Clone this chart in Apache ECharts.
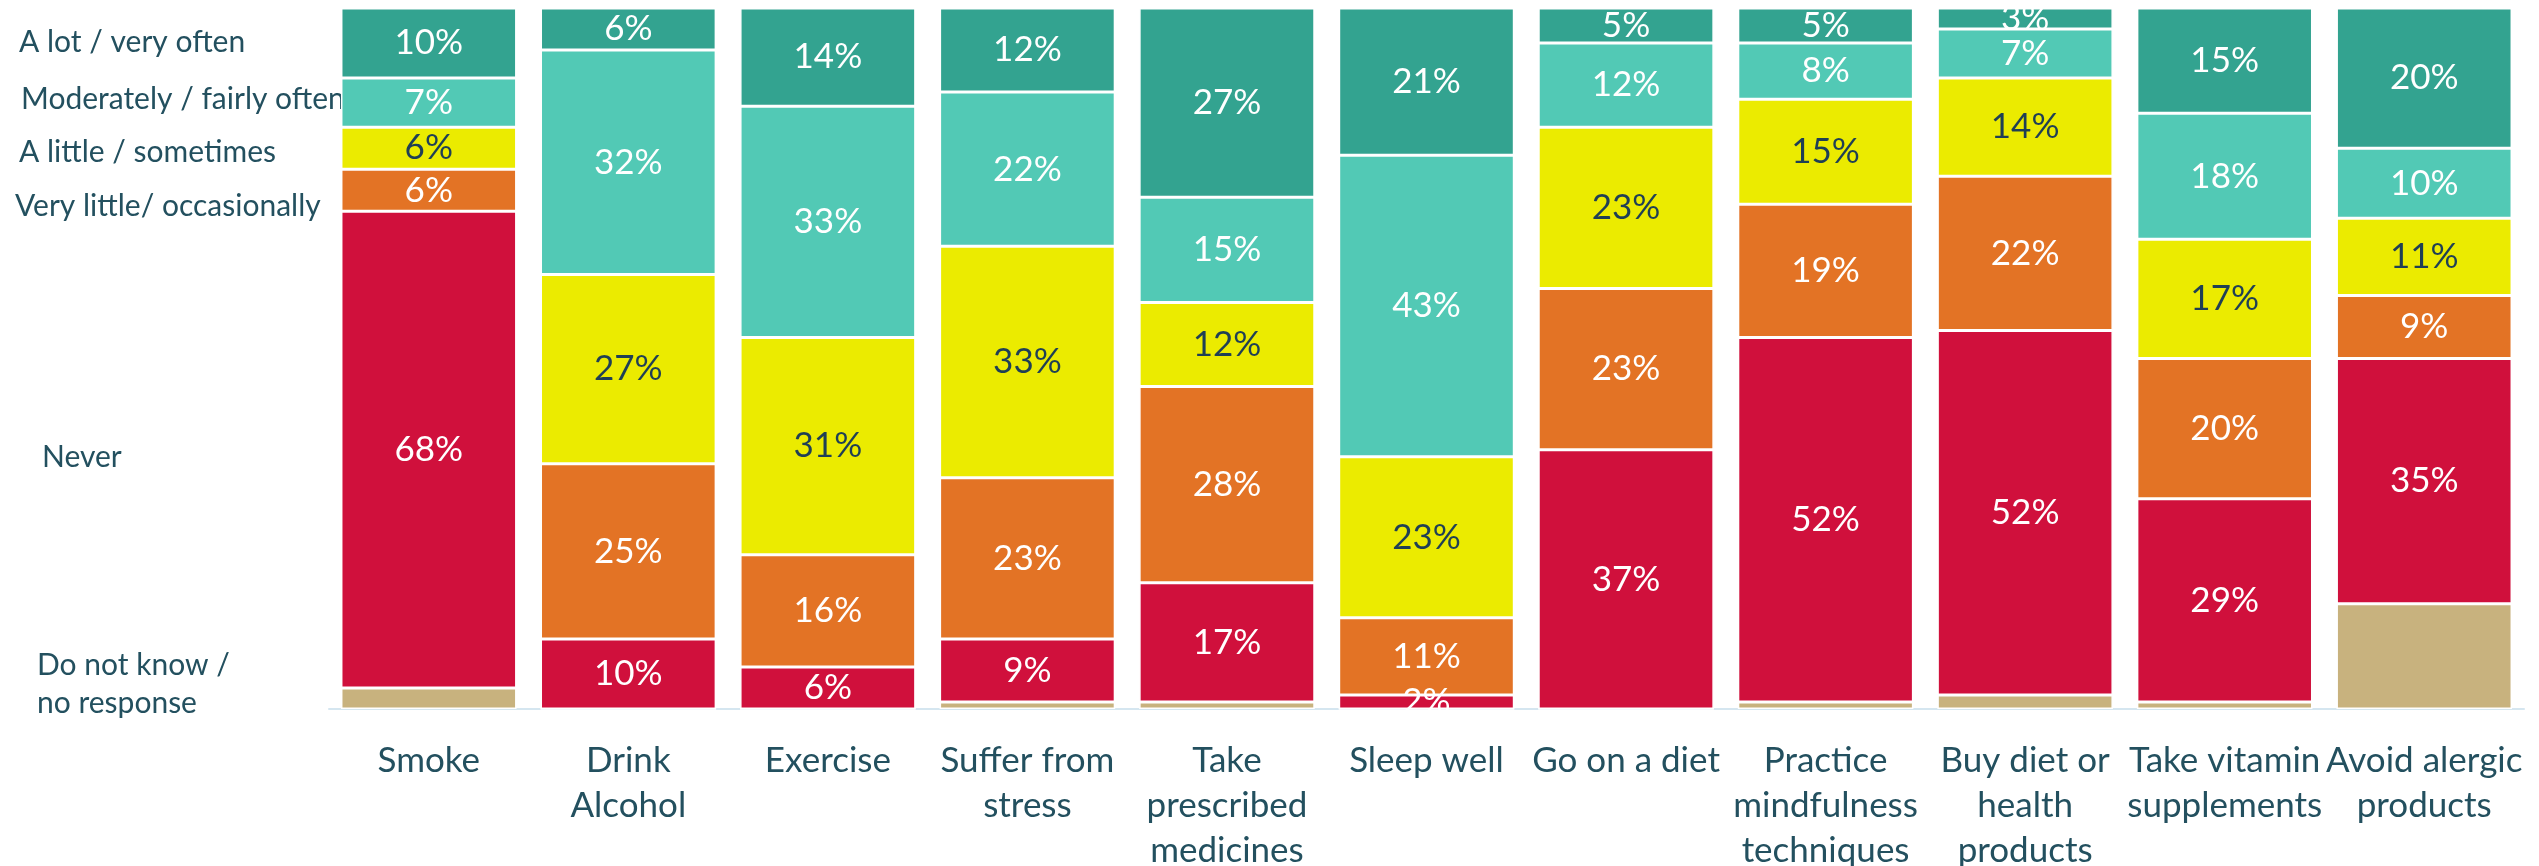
<!DOCTYPE html>
<html>
<head>
<meta charset="utf-8">
<script src="https://cdn.jsdelivr.net/npm/echarts@6/dist/echarts.min.js"></script>
<style>
  html, body { margin: 0; padding: 0; background: #ffffff; }
  #chart { width: 2539px; height: 866px; }
</style>
</head>
<body>
<div id="chart"></div>
<script>
// Survey: how often respondents do each activity (share of answers, %)
const categories = [
  'Smoke', 'Drink\nAlcohol', 'Exercise', 'Suffer from\nstress', 'Take\nprescribed\nmedicines',
  'Sleep well', 'Go on a diet', 'Practice\nmindfulness\ntechniques', 'Buy diet or\nhealth\nproducts',
  'Take vitamin\nsupplements', 'Avoid alergic\nproducts'
];

// stacked bottom to top
const dontKnow   = [3, 0, 0, 1, 1, 0, 0, 1, 2, 1, 15];
const never      = [68, 10, 6, 9, 17, 2, 37, 52, 52, 29, 35];
const veryLittle = [6, 25, 16, 23, 28, 11, 23, 19, 22, 20, 9];
const aLittle    = [6, 27, 31, 33, 12, 23, 23, 15, 14, 17, 11];
const moderately = [7, 32, 33, 22, 15, 43, 12, 8, 7, 18, 10];
const aLot       = [10, 6, 14, 12, 27, 21, 5, 5, 3, 15, 20];

const seriesNames = [
  'Do not know /\nno response',
  'Never',
  'Very little/ occasionally',
  'A little / sometimes',
  'Moderately / fairly often',
  'A lot / very often'
];
const seriesData = [dontKnow, never, veryLittle, aLittle, moderately, aLot];
const colors = ['#c8b27e', '#d0103c', '#e37325', '#ebeb00', '#52c9b5', '#33a390'];
const labelColors = [null, '#ffffff', '#ffffff', '#1f3f55', '#ffffff', '#ffffff'];

const FONT = "Lato, 'Open Sans', sans-serif";
const TEXT_COLOR = '#23505f';

const chart = echarts.init(document.getElementById('chart'));

const series = seriesData.map((vals, i) => ({
  name: seriesNames[i],
  type: 'bar',
  stack: 'total',
  barCategoryGap: '12%',
  data: vals,
  itemStyle: { color: colors[i], borderColor: '#ffffff', borderWidth: 1.5 },
  label: labelColors[i] ? {
    show: true,
    position: 'inside',
    formatter: '{c}%',
    color: labelColors[i],
    fontFamily: FONT,
    fontSize: 35
  } : { show: false },
  emphasis: { disabled: true }
}));

chart.setOption({
  animation: false,
  grid: { left: 329, right: 15, top: 8, bottom: 157, outerBoundsMode: 'none' },
  xAxis: {
    type: 'category',
    data: categories,
    axisLine: { lineStyle: { color: '#d5e6f0', width: 2 } },
    axisTick: { show: false },
    axisLabel: {
      interval: 0,
      color: TEXT_COLOR,
      fontFamily: FONT,
      fontSize: 35,
      lineHeight: 45,
      margin: 29,
      verticalAlign: 'top'
    }
  },
  yAxis: { type: 'value', min: 0, max: 100, show: false, splitLine: { show: false } },
  series: series
});

// Series names written beside the first bar, at the middle of each of its segments
const nudges = [-14, 8, 16, 4, -3, -1];
const leftX = [37, 42, 15, 19, 21, 19];
let base = 0;
const graphics = seriesData.map((vals, i) => {
  const v = vals[0];
  const mid = base + v / 2;
  base += v;
  const y = chart.convertToPixel({ gridIndex: 0 }, [0, mid])[1] + nudges[i];
  return {
    type: 'text',
    x: leftX[i],
    y: y,
    style: {
      text: seriesNames[i],
      fill: TEXT_COLOR,
      font: '30px ' + FONT,
      lineHeight: 38,
      verticalAlign: 'middle',
      textAlign: 'left'
    }
  };
});
chart.setOption({ graphic: graphics });
</script>
</body>
</html>
